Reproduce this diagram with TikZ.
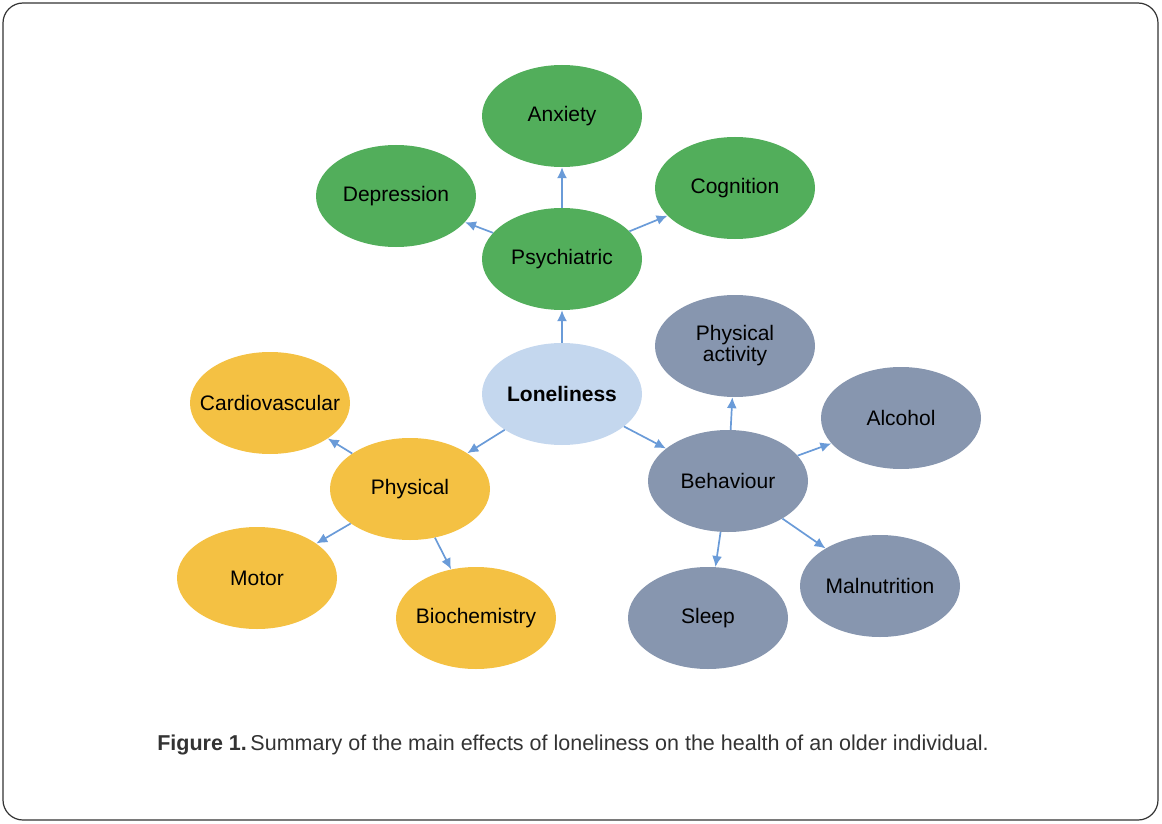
\documentclass[tikz,border=0pt]{standalone}
\usepackage{fontspec}
\setmainfont{Liberation Sans}
\usetikzlibrary{arrows.meta,shapes.geometric}
\definecolor{psygreen}{HTML}{52AE5B}
\definecolor{physyellow}{HTML}{F4C143}
\definecolor{behavgrey}{HTML}{8796AF}
\definecolor{lonelyblue}{HTML}{C4D7EE}
\definecolor{arrowblue}{HTML}{6A9BD8}

\begin{document}
\begin{tikzpicture}[x=1pt,y=-1pt,>={Latex[length=11pt,width=10pt]},
  every node/.style={font=\fontsize{21}{23}\selectfont},
  blob/.style={ellipse,minimum width=160pt,minimum height=102pt,inner xsep=-20pt,inner ysep=0pt,align=center},
  effect/.style={->,line width=1.7pt,arrowblue}]
\useasboundingbox (0,0) rectangle (1162,824);
\draw[rounded corners=20pt,line width=1.2pt,black!80] (3,3) rectangle (1158,820);
% centre
\node[blob,fill=lonelyblue,font=\fontsize{21}{23}\selectfont\bfseries] (lonely) at (562,394) {Loneliness};
% psychiatric
\node[blob,fill=psygreen] (psych) at (562,259) {Psychiatric};
\node[blob,fill=psygreen] (anx) at (562,116) {Anxiety};
\node[blob,fill=psygreen] (depr) at (396,196) {Depression};
\node[blob,fill=psygreen] (cogn) at (735,188) {Cognition};
% physical
\node[blob,fill=physyellow] (phys) at (410,489) {Physical};
\node[blob,fill=physyellow] (cardio) at (270,403) {Cardiovascular};
\node[blob,fill=physyellow] (motor) at (257,578) {Motor};
\node[blob,fill=physyellow] (biochem) at (476,618) {Biochemistry};
% behaviour
\node[blob,fill=behavgrey] (behav) at (728,481) {Behaviour};
\node[blob,fill=behavgrey] (activ) at (735,346) {Physical\\[-2pt]activity};
\node[blob,fill=behavgrey] (alcohol) at (901,418) {Alcohol};
\node[blob,fill=behavgrey] (malnut) at (880,586) {Malnutrition};
\node[blob,fill=behavgrey] (sleep) at (708,618) {Sleep};
\foreach \a/\b in {lonely/psych,psych/anx,psych/depr,psych/cogn,
  lonely/phys,phys/cardio,phys/motor,phys/biochem,
  lonely/behav,behav/activ,behav/alcohol,behav/malnut,behav/sleep}
  \draw[effect] (\a) -- (\b);
\node[text=black!80,font=\fontsize{21.5}{24}\selectfont] (caption) at (573,745) {\textbf{Figure 1.}\,Summary of the main effects of loneliness on the health of an older individual.};
\end{tikzpicture}
\end{document}
